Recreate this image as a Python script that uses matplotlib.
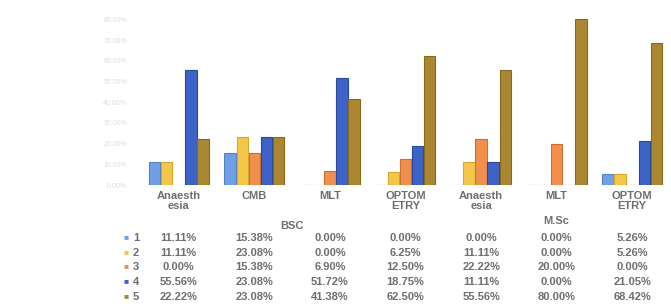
import numpy as np
import matplotlib
matplotlib.use("Agg")
import matplotlib.pyplot as plt
import matplotlib.transforms as mtransforms

plt.rcParams.update({
    "font.family": ["Liberation Sans", "DejaVu Sans"],
    "font.weight": "bold",
})

categories = ["Anaesth\nesia", "CMB", "MLT", "OPTOM\nETRY",
              "Anaesth\nesia", "MLT", "OPTOM\nETRY"]
groups = ["BSC", "M.Sc"]
group_spans = [(0, 3), (4, 6)]
series_names = ["1", "2", "3", "4", "5"]

s1 = [11.11, 15.38, 0.00, 0.00, 0.00, 0.00, 5.26]
s2 = [11.11, 23.08, 0.00, 6.25, 11.11, 0.00, 5.26]
s3 = [0.00, 15.38, 6.90, 12.50, 22.22, 20.00, 0.00]
s4 = [55.56, 23.08, 51.72, 18.75, 11.11, 0.00, 21.05]
s5 = [22.22, 23.08, 41.38, 62.50, 55.56, 80.00, 68.42]
series = [s1, s2, s3, s4, s5]

colors = ["#6f9fe6", "#f3c84a", "#f0904c", "#3d63c8", "#ab8731"]
edges = ["#5580c8", "#d6a82e", "#d0702e", "#2a489c", "#86681f"]

fig = plt.figure(figsize=(6.71, 3.08), dpi=100)
ax = fig.add_axes([141 / 671, 1 - 185 / 308, 529 / 671, 185 / 308])

x = np.arange(len(categories))
w = 0.16
for i, vals in enumerate(series):
    ax.bar(x + (i - 2) * w, np.array(vals) / 100, width=w * 0.95,
           color=colors[i], edgecolor=edges[i], linewidth=0.8)

ax.set_xlim(-0.5, len(categories) - 0.5)
ax.set_ylim(0, 0.894)
ax.set_yticks(np.arange(0, 0.81, 0.1))
ax.set_yticklabels(["%.2f%%" % (t * 100) for t in np.arange(0, 0.81, 0.1)],
                   fontsize=5, color="#dcdcdc", fontweight="normal")
ax.set_xticks(x)
ax.set_xticklabels(categories, fontsize=8, color="#6e6e6e", linespacing=1.0)
ax.tick_params(length=0, pad=4)
ax.tick_params(axis="y", pad=10)
for sp in ax.spines.values():
    sp.set_visible(False)

# data table below the chart
trans = mtransforms.blended_transform_factory(ax.transData, fig.transFigure)
row_y = [238, 253, 267, 282, 297]
for (a, b), name, yy in zip(group_spans, groups, [226, 221]):
    ax.text((a + b) / 2, 1 - yy / 308, name, transform=trans, ha="center",
            va="center", fontsize=8, color="#6e6e6e")
for i, vals in enumerate(series):
    yy = 1 - row_y[i] / 308
    fig.text(126 / 671, yy, "\u25a0", color=colors[i], fontsize=6,
             ha="center", va="center")
    fig.text(133 / 671, yy, series_names[i], color="#6e6e6e", fontsize=8,
             ha="left", va="center")
    for j, v in enumerate(vals):
        ax.text(j, yy, "%.2f%%" % v, transform=trans, ha="center",
                va="center", fontsize=8, color="#6e6e6e")

fig.savefig("out.png", dpi=100)
